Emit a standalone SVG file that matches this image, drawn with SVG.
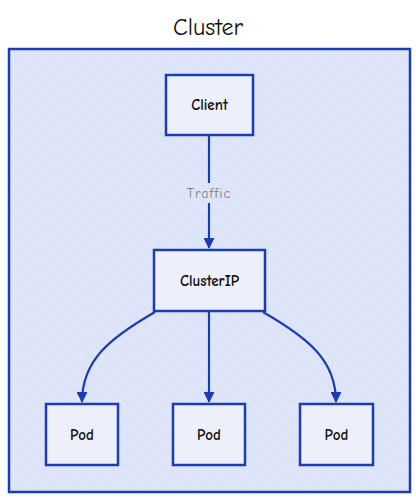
<svg xmlns="http://www.w3.org/2000/svg" width="416" height="500" viewBox="0 0 416 500">
<defs>
<style>
.box{fill:#edf0fb;stroke:#1a3db5;stroke-width:2.5}
.lbl{font-family:"Comic Neue","Liberation Sans",sans-serif;font-size:15px;font-weight:bold;fill:#111;text-anchor:middle;dominant-baseline:central}
.edge{fill:none;stroke:#1a3db5;stroke-width:2.2}
</style>
<marker id="ah" viewBox="0 0 10 10" refX="9" refY="5" markerWidth="12" markerHeight="11" orient="auto" markerUnits="userSpaceOnUse">
<path d="M0,0 L10,5 L0,10 z" fill="#1a3db5"/>
</marker>
<pattern id="hatch" width="12" height="12" patternUnits="userSpaceOnUse" patternTransform="rotate(-50)">
<rect width="12" height="12" fill="#dfe5f8"/>
<line x1="0" y1="0" x2="0" y2="12" stroke="#d2d9f0" stroke-width="1"/>
</pattern>
</defs>
<text x="208" y="27" font-family="'Comic Neue','Liberation Sans',sans-serif" font-size="24" fill="#111" text-anchor="middle" dominant-baseline="central">Cluster</text>
<g id="cluster">
<rect x="9" y="49" width="401" height="443" fill="url(#hatch)" stroke="#1a3db5" stroke-width="2.5"/>
</g>
<g id="connectors">
<path class="edge" d="M209,135 L209,183 M209,203 L209,248" marker-end="url(#ah)"/>
<text x="209" y="193" font-family="'Comic Neue','Liberation Sans',sans-serif" font-size="14" letter-spacing="1" fill="#808080" text-anchor="middle" dominant-baseline="central">Traffic</text>
<path class="edge" d="M155,312 C110,338 82,360 82,402" marker-end="url(#ah)"/>
<path class="edge" d="M209,312 L209,402" marker-end="url(#ah)"/>
<path class="edge" d="M263,312 C308,338 336,360 336,402" marker-end="url(#ah)"/>
</g>
<g id="client">
<rect class="box" x="166" y="75" width="87" height="60"/>
<text class="lbl" x="209.5" y="105">Client</text>
</g>
<g id="clusterip">
<rect class="box" x="154" y="250" width="111" height="61"/>
<text class="lbl" x="209.5" y="280.5">ClusterIP</text>
</g>
<g id="pod1">
<rect class="box" x="46" y="404" width="72" height="61"/>
<text class="lbl" x="82" y="435">Pod</text>
</g>
<g id="pod2">
<rect class="box" x="173" y="404" width="72" height="61"/>
<text class="lbl" x="209" y="435">Pod</text>
</g>
<g id="pod3">
<rect class="box" x="300" y="404" width="73" height="61"/>
<text class="lbl" x="336.5" y="435">Pod</text>
</g>
</svg>
